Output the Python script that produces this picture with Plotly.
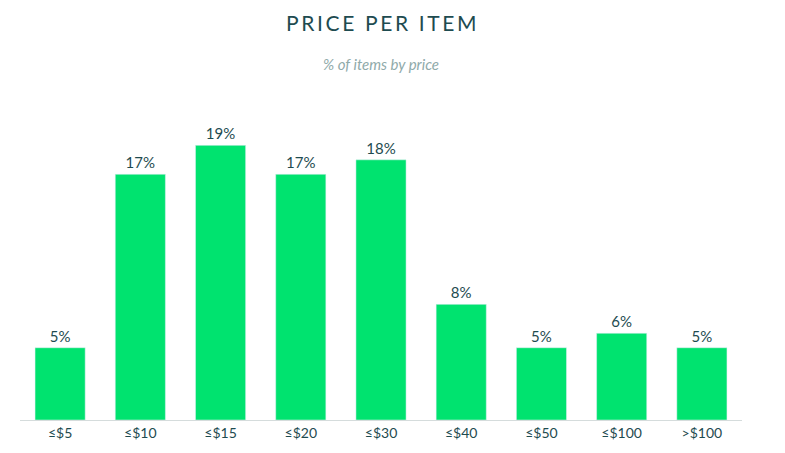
import plotly.graph_objects as go

categories = ["≤$5", "≤$10", "≤$15", "≤$20", "≤$30", "≤$40", "≤$50", "≤$100", ">$100"]
values = [5, 17, 19, 17, 18, 8, 5, 6, 5]
labels = [f"{v}%" for v in values]

title = "\u2009".join("PRICE PER ITEM")

H = 453; t = 94; b = 41
ph = H - t - b

def py(pix):
    # pixel y in page (minus 8px body offset) -> paper coord
    return 1 + (t - (pix - 8)) / ph

fig = go.Figure(go.Bar(
    x=categories, y=values, text=labels, textposition="outside",
    marker_color="#00E36F", textfont=dict(color="#1E4B50", size=15),
    cliponaxis=False,
))
fig.update_layout(
    width=785, height=453,
    margin=dict(l=12, r=51, t=t, b=b),
    plot_bgcolor="white", paper_bgcolor="white",
    font=dict(family="Lato, sans-serif", color="#1E4B50"),
    bargap=0.375, showlegend=False,
    annotations=[
        dict(text=title, x=0.5, xref="paper", y=py(22), yref="paper", yanchor="middle",
             showarrow=False, font=dict(size=21, color="#1E4B50")),
        dict(text="<i>% of items by price</i>", x=0.5, xref="paper", y=py(64), yref="paper",
             yanchor="middle", showarrow=False, font=dict(size=15, color="#8FAAAA")),
    ],
    xaxis=dict(showline=True, linecolor="#D5DCDC", linewidth=1, ticks="",
               tickfont=dict(size=14, color="#1E4B50")),
    yaxis=dict(range=[0, 22], visible=False),
)
fig.write_html("out.html")
